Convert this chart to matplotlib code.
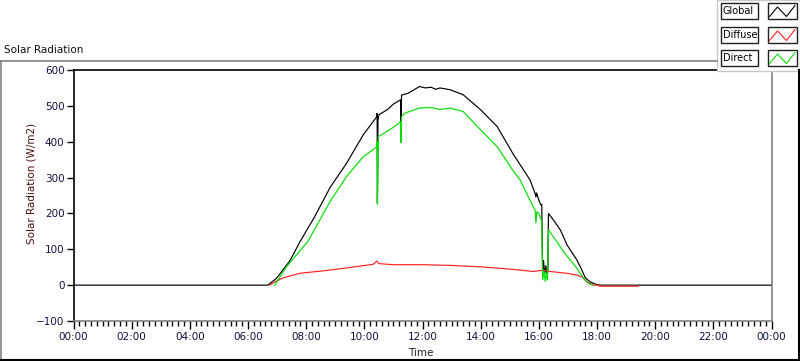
import matplotlib
matplotlib.use("Agg")
import matplotlib.pyplot as plt
from matplotlib.ticker import MultipleLocator, FuncFormatter
from matplotlib.patches import Rectangle
from matplotlib.lines import Line2D

# ---------------- data (hours of day, W/m2) ----------------
global_t = [0, 6.68, 6.98, 7.44, 7.78, 8.3, 8.82, 9.39, 9.96, 10.2, 10.43, 10.44, 10.45, 10.47,
            10.5, 10.8, 11.0, 11.25, 11.26, 11.28, 11.5, 11.9, 12.1, 12.3, 12.45, 12.6, 12.95,
            13.4, 14.0, 14.57, 15.1, 15.7, 15.87, 15.9, 15.92, 16.0, 16.07, 16.1, 16.13, 16.16,
            16.2, 16.24, 16.28, 16.31, 16.33, 16.5, 16.74, 16.97, 17.31, 17.48, 17.6, 17.77,
            17.94, 18.1, 24]
global_v = [0, 0, 19, 68, 120, 192, 272, 340, 419, 445, 470, 480, 230, 460,
            475, 490, 505, 517, 452, 530, 535, 554, 550, 552, 546, 550, 545,
            531, 489, 442, 368, 293, 256, 245, 258, 237, 223, 226, 42, 70,
            30, 55, 25, 40, 200, 182, 154, 112, 70, 42, 20, 9,
            3, 0, 0]

diffuse_t = [6.75, 6.92, 7.2, 7.78, 8.82, 9.85, 10.3, 10.43, 10.5, 11.0, 12.0, 13.0, 14.0,
             14.67, 15.36, 15.8, 16.15, 16.4, 16.97, 17.31, 17.48, 17.65, 17.88, 18.06, 18.08,
             19.42]
diffuse_v = [0, 9, 20, 33, 42, 53, 58, 67, 60, 57, 57, 55, 51,
             47, 42, 38, 42, 38, 33, 28, 23, 9, 0, 0, -3,
             -3]

direct_t = [6.92, 7.32, 8.06, 8.82, 9.39, 9.96, 10.2, 10.43, 10.44, 10.45, 10.47, 10.48, 10.8,
            11.0, 11.25, 11.26, 11.28, 11.4, 11.9, 12.3, 12.6, 12.95, 13.4, 14.0, 14.57, 15.1,
            15.36, 15.8, 15.87, 15.9, 15.93, 16.0, 16.07, 16.1, 16.13, 16.18, 16.22, 16.27,
            16.3, 16.33, 16.62, 16.85, 17.08, 17.31, 17.54, 17.7, 17.85]
direct_v = [0, 51, 122, 233, 303, 358, 372, 386, 400, 225, 330, 414, 430,
            440, 456, 397, 470, 480, 494, 495, 490, 494, 484, 433, 386, 321,
            293, 219, 210, 173, 205, 200, 185, 177, 14, 40, 10, 35,
            14, 154, 121, 93, 70, 47, 19, 5, 0]

series_names = ["Global", "Diffuse", "Direct"]
series_colors = ["#000000", "#ff2020", "#00e000"]

W, H = 800, 361
fig = plt.figure(figsize=(W / 100, H / 100), dpi=100)
fig.patch.set_facecolor("white")

def fx(px):
    return px / W

def fy(py):
    return 1 - py / H

ax_l, ax_r, ax_t, ax_b = 73.5, 771.5, 70.0, 321.0
ax = fig.add_axes([fx(ax_l), fy(ax_b), fx(ax_r - ax_l), (ax_b - ax_t) / H])
ax.set_facecolor("white")

for t, v, c in zip([global_t, diffuse_t, direct_t], [global_v, diffuse_v, direct_v], series_colors):
    ax.plot(t, v, color=c, lw=0.85, solid_joinstyle="miter")

ax.set_xlim(0, 24)
ax.set_ylim(-100, 600)

FONT = "DejaVu Sans"
FS = 7.5
ax.xaxis.set_major_locator(MultipleLocator(2))
ax.xaxis.set_minor_locator(MultipleLocator(0.2))
ax.yaxis.set_major_locator(MultipleLocator(100))
ax.xaxis.set_major_formatter(FuncFormatter(lambda x, p: "%02d:00" % (int(round(x)) % 24)))
ax.tick_params(axis="x", which="major", length=6, width=1, direction="out", pad=2,
               labelsize=FS, colors="black", labelcolor="#101040")
ax.tick_params(axis="x", which="minor", length=3.5, width=1, direction="out")
ax.tick_params(axis="y", which="major", length=5, width=1, direction="out", pad=1.5,
               labelsize=FS, labelcolor="#101040")
for lab in ax.get_xticklabels() + ax.get_yticklabels():
    lab.set_fontfamily(FONT)

ax.spines["left"].set_color("black")
ax.spines["top"].set_color("black")
ax.spines["right"].set_color("#808080")
ax.spines["bottom"].set_color("#808080")
for s in ax.spines.values():
    s.set_linewidth(1.2)

# axis labels
fig.text(fx(31), fy(183), "Solar Radiation (W/m2)", rotation=90, ha="center", va="center",
         fontsize=FS, color="#4a1010", family=FONT)
fig.text(fx(421), fy(353), "Time", ha="center", va="center", fontsize=FS,
         color="#202020", family=FONT)
fig.text(fx(4), fy(50), "Solar Radiation", ha="left", va="center", fontsize=FS,
         color="#101010", family=FONT)

# overlay for panel frame and legend
ov = fig.add_axes([0, 0, 1, 1], facecolor="none")
ov.set_xlim(0, W)
ov.set_ylim(H, 0)
ov.axis("off")

ov.add_line(Line2D([0, 717], [61, 61], color="#808080", lw=1.2))
ov.add_line(Line2D([1, 1], [61, 360], color="#808080", lw=1.2))
ov.add_line(Line2D([0, 800], [359.5, 359.5], color="black", lw=1.5))
ov.add_line(Line2D([799, 799], [70, 360], color="black", lw=1.5))

ov.add_patch(Rectangle((717, 0), 83, 71, facecolor="white", edgecolor="#c8c8c8", lw=1.0))
row_tops = [2.5, 26.5, 49.5]
for name, col, top in zip(series_names, series_colors, row_tops):
    ov.add_patch(Rectangle((720.5, top), 37.5, 16.5, facecolor="white", edgecolor="#202020", lw=1.0))
    ov.add_patch(Rectangle((767.5, top), 29.5, 16.5, facecolor="white", edgecolor="#202020", lw=1.0))
    ov.text(722.5, top + 8.5, name, ha="left", va="center", fontsize=7, color="black", family=FONT)
    xs = [769.5, 777.5, 786.5, 795]
    ys = [top + 14, top + 4.5, top + 14, top + 3]
    ov.add_line(Line2D(xs, ys, color=col, lw=0.8))

fig.savefig("out.png", dpi=100)
